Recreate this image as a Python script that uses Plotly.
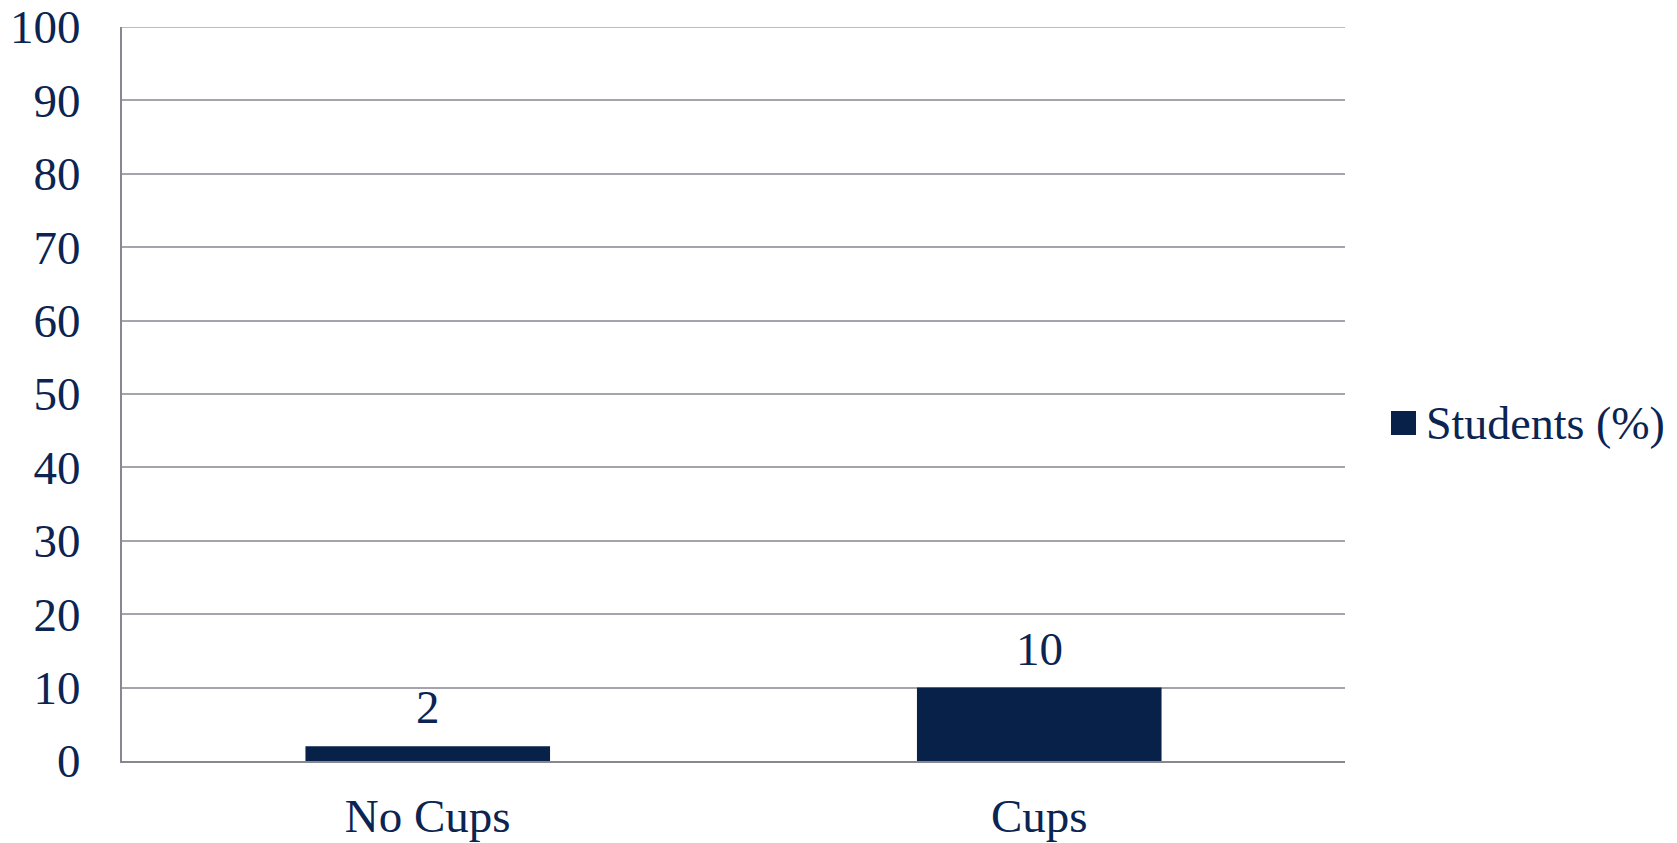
import plotly.graph_objects as go

# Chart data
categories = ["No Cups", "Cups"]
students_pct = [2, 10]
series_name = "Students (%)"
y_ticks = [0, 10, 20, 30, 40, 50, 60, 70, 80, 90, 100]

NAVY = "#072149"
TEXT = "#0b2452"
FONT = "Liberation Serif"
FS = 47
GRID = "#a4a4ad"

fig = go.Figure()
fig.add_trace(go.Bar(
    x=categories,
    y=students_pct,
    name=series_name,
    marker=dict(color=NAVY, line=dict(width=0)),
    width=0.4,
    showlegend=False,
))

# Value labels above each bar
for cat, val in zip(categories, students_pct):
    fig.add_annotation(
        x=cat, y=val, text=str(val), showarrow=False,
        xanchor="center", yanchor="bottom", yshift=11,
        font=dict(family=FONT, size=FS, color=TEXT),
    )

fig.update_layout(
    width=1677,
    height=843,
    margin=dict(l=122, r=332, t=27, b=82),
    paper_bgcolor="white",
    plot_bgcolor="white",
    font=dict(family=FONT, size=FS, color=TEXT),
    xaxis=dict(
        showgrid=False,
        showline=True,
        linecolor="#878791",
        linewidth=2,
        ticks="",
        tickfont=dict(family=FONT, size=FS, color=TEXT),
        ticklabelstandoff=13,
        automargin=False,
    ),
    yaxis=dict(
        range=[y_ticks[0], y_ticks[-1]],
        tickvals=y_ticks,
        showgrid=True,
        gridcolor=GRID,
        gridwidth=1.5,
        showline=True,
        linecolor="#878791",
        linewidth=2,
        zeroline=False,
        ticks="",
        tickfont=dict(family=FONT, size=FS, color=TEXT),
        ticklabelstandoff=30,
        automargin=False,
    ),
)

# Top gridline at the upper edge of the value axis
fig.add_shape(
    type="line", xref="paper", yref="y",
    x0=0, x1=1, y0=y_ticks[-1], y1=y_ticks[-1],
    line=dict(color=GRID, width=1.5), layer="below",
)

# Legend entry: navy square with the series name
fig.add_shape(
    type="rect", xref="paper", yref="paper",
    x0=(1391 - 122) / 1223, x1=(1416 - 122) / 1223,
    y0=(761 - 435) / 734, y1=(761 - 411) / 734,
    fillcolor=NAVY, line=dict(width=0),
)
fig.add_annotation(
    text=series_name, xref="paper", yref="paper",
    x=(1424 - 122) / 1223, y=(761 - 423) / 734,
    xanchor="left", yanchor="middle", showarrow=False,
    font=dict(family=FONT, size=FS - 1, color=TEXT),
)

fig.write_html("out.html")
